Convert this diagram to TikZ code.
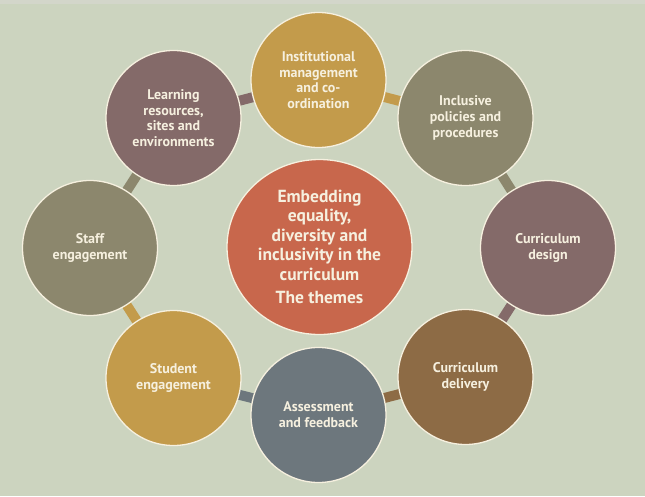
\documentclass[tikz,border=0pt]{standalone}
\usepackage{fontspec}
\setmainfont{PT Sans}
\usepackage{tikz}
\usetikzlibrary{backgrounds,shapes.geometric}
\definecolor{sage}{HTML}{CCD4BF}
\definecolor{sagetop}{HTML}{D3D6CA}
\definecolor{cream}{HTML}{F6F0DF}
\definecolor{gold}{HTML}{C39B4B}
\definecolor{olive}{HTML}{8C876D}
\definecolor{mauve}{HTML}{846A69}
\definecolor{umber}{HTML}{8D6B45}
\definecolor{slate}{HTML}{6D777D}
\definecolor{brick}{HTML}{C8674C}
\tikzset{
  theme/.style={circle, draw=cream, line width=1.3pt, minimum size=135pt, inner sep=0pt, align=center,
    text=cream, font=\fontsize{14}{15.7}\selectfont\bfseries},
  hub/.style={ellipse, draw=cream, line width=1.3pt, fill=brick, minimum width=185pt, minimum height=175pt,
    inner sep=0pt, align=center, text=cream, font=\fontsize{17.5}{19.5}\selectfont\bfseries},
  link/.style={line width=10pt, draw=#1},
}

\begin{document}
\begin{tikzpicture}[x=1pt, y=-1pt]
    % backdrop
    \begin{pgfonlayer}{background}
      \fill[sage] (0,0) rectangle (645,496);
      \fill[sagetop] (0,0) rectangle (645,4);
    \end{pgfonlayer}
    \useasboundingbox (0,0) rectangle (645,496);
    % hub
    \node[hub] (hub) at (319.5, 247) {Embedding\\ equality,\\ diversity and\\ inclusivity in the\\ curriculum\\[4pt] The themes};
    % ring of themes
    \node[theme, fill=gold]  (inst)   at (318.5, 80)  {Institutional\\ management\\ and co-\\ ordination};
    \node[theme, fill=olive] (policy) at (465.5, 118) {Inclusive\\ policies and\\ procedures};
    \node[theme, fill=mauve] (design) at (548, 248)   {Curriculum\\ design};
    \node[theme, fill=umber] (deliv)  at (465.5, 377) {Curriculum\\ delivery};
    \node[theme, fill=slate] (assess) at (318.5, 415) {Assessment\\ and feedback};
    \node[theme, fill=gold]  (stud)   at (173.5, 378) {Student\\ engagement};
    \node[theme, fill=olive] (staff)  at (90, 248)    {Staff\\ engagement};
    \node[theme, fill=mauve] (learn)  at (173.5, 118) {Learning\\ resources,\\ sites and\\ environments};
    % links behind the circles
    \begin{pgfonlayer}{background}
      \draw[link=gold]  (inst.center) -- (policy.center);
      \draw[link=olive] (policy.center) -- (design.center);
      \draw[link=mauve] (design.center) -- (deliv.center);
      \draw[link=umber] (deliv.center) -- (assess.center);
      \draw[link=slate] (assess.center) -- (stud.center);
      \draw[link=gold]  (stud.center) -- (staff.center);
      \draw[link=olive] (staff.center) -- (learn.center);
      \draw[link=mauve] (learn.center) -- (inst.center);
    \end{pgfonlayer}
  \end{tikzpicture}
\end{document}
